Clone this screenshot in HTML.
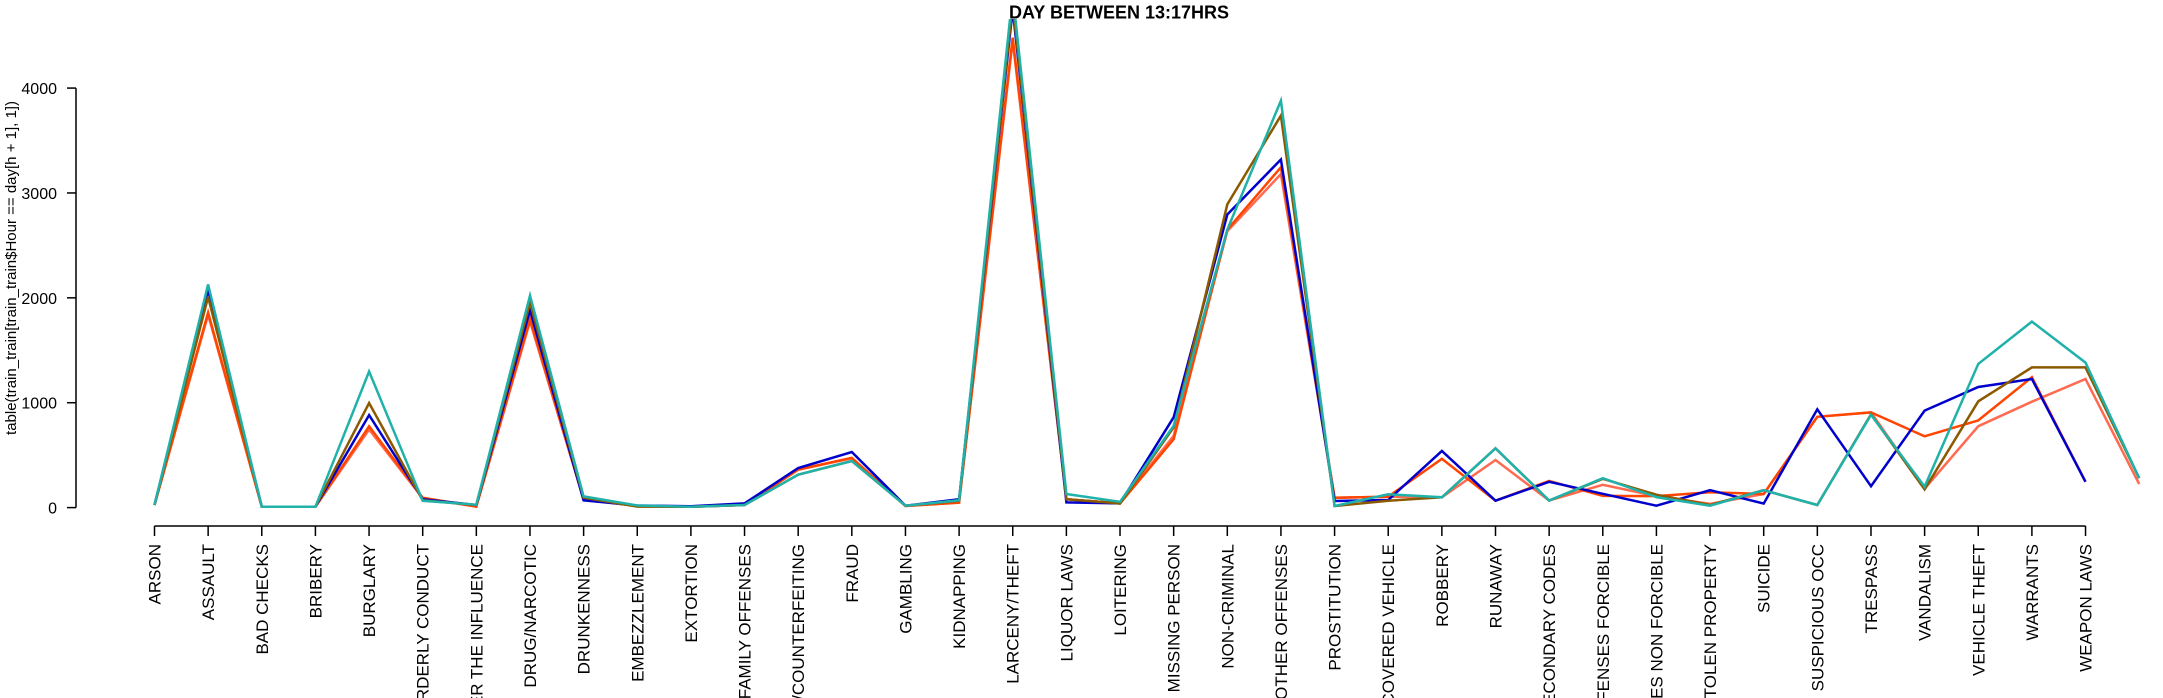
<!DOCTYPE html>
<html><head><meta charset="utf-8"><style>
html,body{margin:0;padding:0;background:#fff;width:2163px;height:698px;overflow:hidden}
svg{display:block;overflow:hidden}
text{font-family:"Liberation Sans",Arial,sans-serif}
</style></head><body>
<svg id="chart" width="2163" height="698" viewBox="0 0 2163 698" xmlns="http://www.w3.org/2000/svg">
<defs>
<clipPath id="plotclip"><rect x="0" y="19" width="2163" height="679"/></clipPath>
<clipPath id="frameclip"><rect x="0" y="0" width="2163" height="698"/></clipPath>
</defs>
<text x="1119" y="18.5" text-anchor="middle" font-size="18" font-weight="bold">DAY BETWEEN 13:17HRS</text>
<text transform="translate(16,268) rotate(-90)" text-anchor="middle" font-size="15">table(train_train[train_train$Hour == day[h + 1], 1])</text>
<g id="yaxis"></g>
<g id="xaxis" clip-path="url(#frameclip)"></g>
<g id="series" clip-path="url(#plotclip)"></g>
</svg>
<script>
const categories = ["ARSON","ASSAULT","BAD CHECKS","BRIBERY","BURGLARY","DISORDERLY CONDUCT","DRIVING UNDER THE INFLUENCE","DRUG/NARCOTIC","DRUNKENNESS","EMBEZZLEMENT","EXTORTION","FAMILY OFFENSES","FORGERY/COUNTERFEITING","FRAUD","GAMBLING","KIDNAPPING","LARCENY/THEFT","LIQUOR LAWS","LOITERING","MISSING PERSON","NON-CRIMINAL","OTHER OFFENSES","PROSTITUTION","RECOVERED VEHICLE","ROBBERY","RUNAWAY","SECONDARY CODES","SEX OFFENSES FORCIBLE","SEX OFFENSES NON FORCIBLE","STOLEN PROPERTY","SUICIDE","SUSPICIOUS OCC","TRESPASS","VANDALISM","VEHICLE THEFT","WARRANTS","WEAPON LAWS"];
const yTicks = [0,1000,2000,3000,4000];
const salmonValues = [25,1840,8,8,745,90,10,1775,80,15,8,25,362,470,15,50,4450,80,40,685,2635,3180,94,104,98,454,68,217,110,35,130,866,908,180,776,1010,1226,225];
const redValues    = [25,1860,8,8,775,94,10,1797,80,15,8,25,362,475,15,47,4480,80,40,652,2650,3245,94,104,465,66,255,112,110,146,130,866,908,680,831,1243,246];
const blueValues   = [25,2075,8,8,882,80,25,1882,70,20,12,40,378,530,18,79,4750,50,40,862,2795,3319,63,72,540,66,246,132,18,166,38,937,204,925,1150,1226,246];
const brownValues  = [25,2009,8,8,997,70,25,1954,95,10,8,25,314,444,18,65,4800,80,40,765,2891,3738,15,66,98,565,68,275,123,25,166,25,890,174,1014,1337,1337,280];
const tealValues   = [25,2128,8,8,1298,65,28,2022,107,20,8,25,314,444,18,70,4900,130,55,781,2650,3880,15,127,98,565,68,280,100,18,166,25,885,200,1370,1773,1383,280];
const seriesNames = ["salmon","orangered","blue","brown","teal"];
const seriesColors = ["#FF6A50","#FF4500","#0000CD","#8B5A00","#20B2AA"];
const seriesData = [salmonValues, redValues, blueValues, brownValues, tealValues];

const NS = "http://www.w3.org/2000/svg";
const x0 = 154.5, step = 53.64, y0 = 507.6, yScale = 0.10488;
function xPos(i){ return x0 + i*step; }
function yPos(v){ return y0 - v*yScale; }
function mk(tag, attrs){ const e=document.createElementNS(NS,tag); for(const k in attrs) e.setAttribute(k,attrs[k]); return e; }

const yaxis = document.getElementById('yaxis');
const yl = mk('line',{x1:76,x2:76,y1:yPos(yTicks[0]),y2:yPos(yTicks[yTicks.length-1]),stroke:'#000','stroke-width':1.5});


yaxis.appendChild(yl);
yTicks.forEach(t=>{
  const tk = mk('line',{x1:67,x2:76,y1:yPos(t),y2:yPos(t),stroke:'#000','stroke-width':1.5});
  
  
  yaxis.appendChild(tk);
  const lb = mk('text',{x:57,y:yPos(t)+6,'text-anchor':'end','font-size':16});
  
  
  lb.textContent = String(t);
  yaxis.appendChild(lb);
});

const xaxis = document.getElementById('xaxis');
const xl = mk('line',{x1:xPos(0),x2:xPos(categories.length-1),y1:526,y2:526,stroke:'#000','stroke-width':1.5});


xaxis.appendChild(xl);
categories.forEach((c,i)=>{
  const tk = mk('line',{x1:xPos(i),x2:xPos(i),y1:526,y2:536,stroke:'#000','stroke-width':1.5});
  
  
  xaxis.appendChild(tk);
  const lb = mk('text',{transform:'translate('+(xPos(i)+6)+',544) rotate(-90)','text-anchor':'end','font-size':17});
  
  
  lb.textContent = c;
  xaxis.appendChild(lb);
});

const sg = document.getElementById('series');
seriesData.forEach((vals,si)=>{
  const pts = vals.map((v,i)=>xPos(i).toFixed(1)+','+yPos(v).toFixed(1)).join(' ');
  const pl = mk('polyline',{points:pts,fill:'none',stroke:seriesColors[si],'stroke-width':2.5,'stroke-linejoin':'miter'});
  
  
  sg.appendChild(pl);
});
</script>
</body></html>
